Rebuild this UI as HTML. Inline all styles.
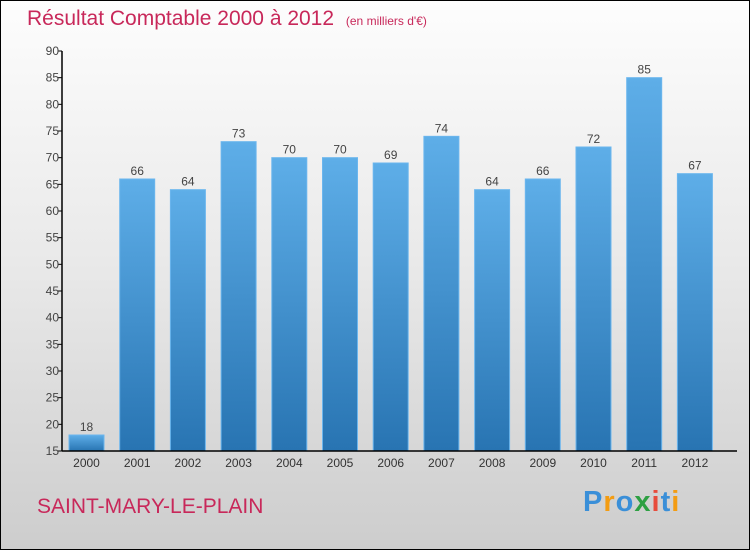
<!DOCTYPE html>
<html><head><meta charset="utf-8"><style>
body{margin:0;}
#wrap{position:relative;width:748px;height:548px;border:1px solid #000;background:linear-gradient(#fdfdfd,#e8e8e8 50%,#cdcdcd);font-family:"Liberation Sans",sans-serif;overflow:hidden;}
.t{position:absolute;}
</style></head><body>
<div id="wrap">
<div class="t" style="left:26px;top:6px;font-size:21px;color:#c8285a;">Résultat Comptable 2000 à 2012 <span style="font-size:12px;margin-left:6px;">(en milliers d'€)</span></div>
<div class="t" style="left:36px;top:494px;font-size:21px;color:#c8285a;">SAINT-MARY-LE-PLAIN</div>
<div class="t" style="left:582px;top:485px;font-size:29px;font-weight:bold;letter-spacing:1px;"><span style="color:#3a8fd8">P</span><span style="color:#f39c12">r</span><span style="color:#3a8fd8">o</span><span style="color:#2ea043">x</span><span style="color:#e74c3c">i</span><span style="color:#3a8fd8">t</span><span style="color:#f39c12">i</span></div>
<svg id="chart" class="t" style="left:0;top:0" width="750" height="550">
<defs><linearGradient id="bg" x1="0" y1="0" x2="0" y2="1"><stop offset="0" stop-color="#5eaee8"/><stop offset="1" stop-color="#2874b2"/></linearGradient></defs>
</svg>
</div>
<script>
const years=["2000","2001","2002","2003","2004","2005","2006","2007","2008","2009","2010","2011","2012"];
const values=[18,66,64,73,70,70,69,74,64,66,72,85,67];
const yTicks=[15,20,25,30,35,40,45,50,55,60,65,70,75,80,85,90];
const svg=document.getElementById('chart');
const NS='http://www.w3.org/2000/svg';
const yMin=15,yMax=90,y0=450,y1=50,x0=61,step=50.7,firstC=85.5,bw=35;
const ys=v=>y0-(v-yMin)/(yMax-yMin)*(y0-y1);
const xs=i=>firstC+i*step;
function mk(t,a){const e=document.createElementNS(NS,t);for(const k in a)e.setAttribute(k,a[k]);svg.appendChild(e);return e;}
values.forEach((v,i)=>{
 const r=mk('rect',{x:xs(i)-bw/2,y:ys(v),width:bw,height:y0-ys(v),fill:'url(#bg)',stroke:'#6bb6ee','stroke-width':1});
 
 
 const t=mk('text',{x:xs(i),y:ys(v)-4,'text-anchor':'middle','font-size':12,fill:'#444','font-family':'Liberation Sans, sans-serif'});
 t.textContent=v;
 
 
 const xl=mk('text',{x:xs(i),y:466,'text-anchor':'middle','font-size':12,fill:'#333','font-family':'Liberation Sans, sans-serif'});
 xl.textContent=years[i];
 
 
});
yTicks.forEach(v=>{
 const tk=mk('line',{x1:x0-4,x2:x0,y1:ys(v),y2:ys(v),stroke:'#000'});
 
 
 const l=mk('text',{x:x0-3,y:ys(v)+4,'text-anchor':'end','font-size':12,fill:'#444','font-family':'Liberation Sans, sans-serif'});
 l.textContent=v;
 
 
});
const ya=mk('line',{x1:x0,x2:x0,y1:y1,y2:y0,stroke:'#000','stroke-width':1.5});


const xa=mk('line',{x1:x0,x2:736,y1:y0,y2:y0,stroke:'#000','stroke-width':1.5});


</script>
</body></html>
